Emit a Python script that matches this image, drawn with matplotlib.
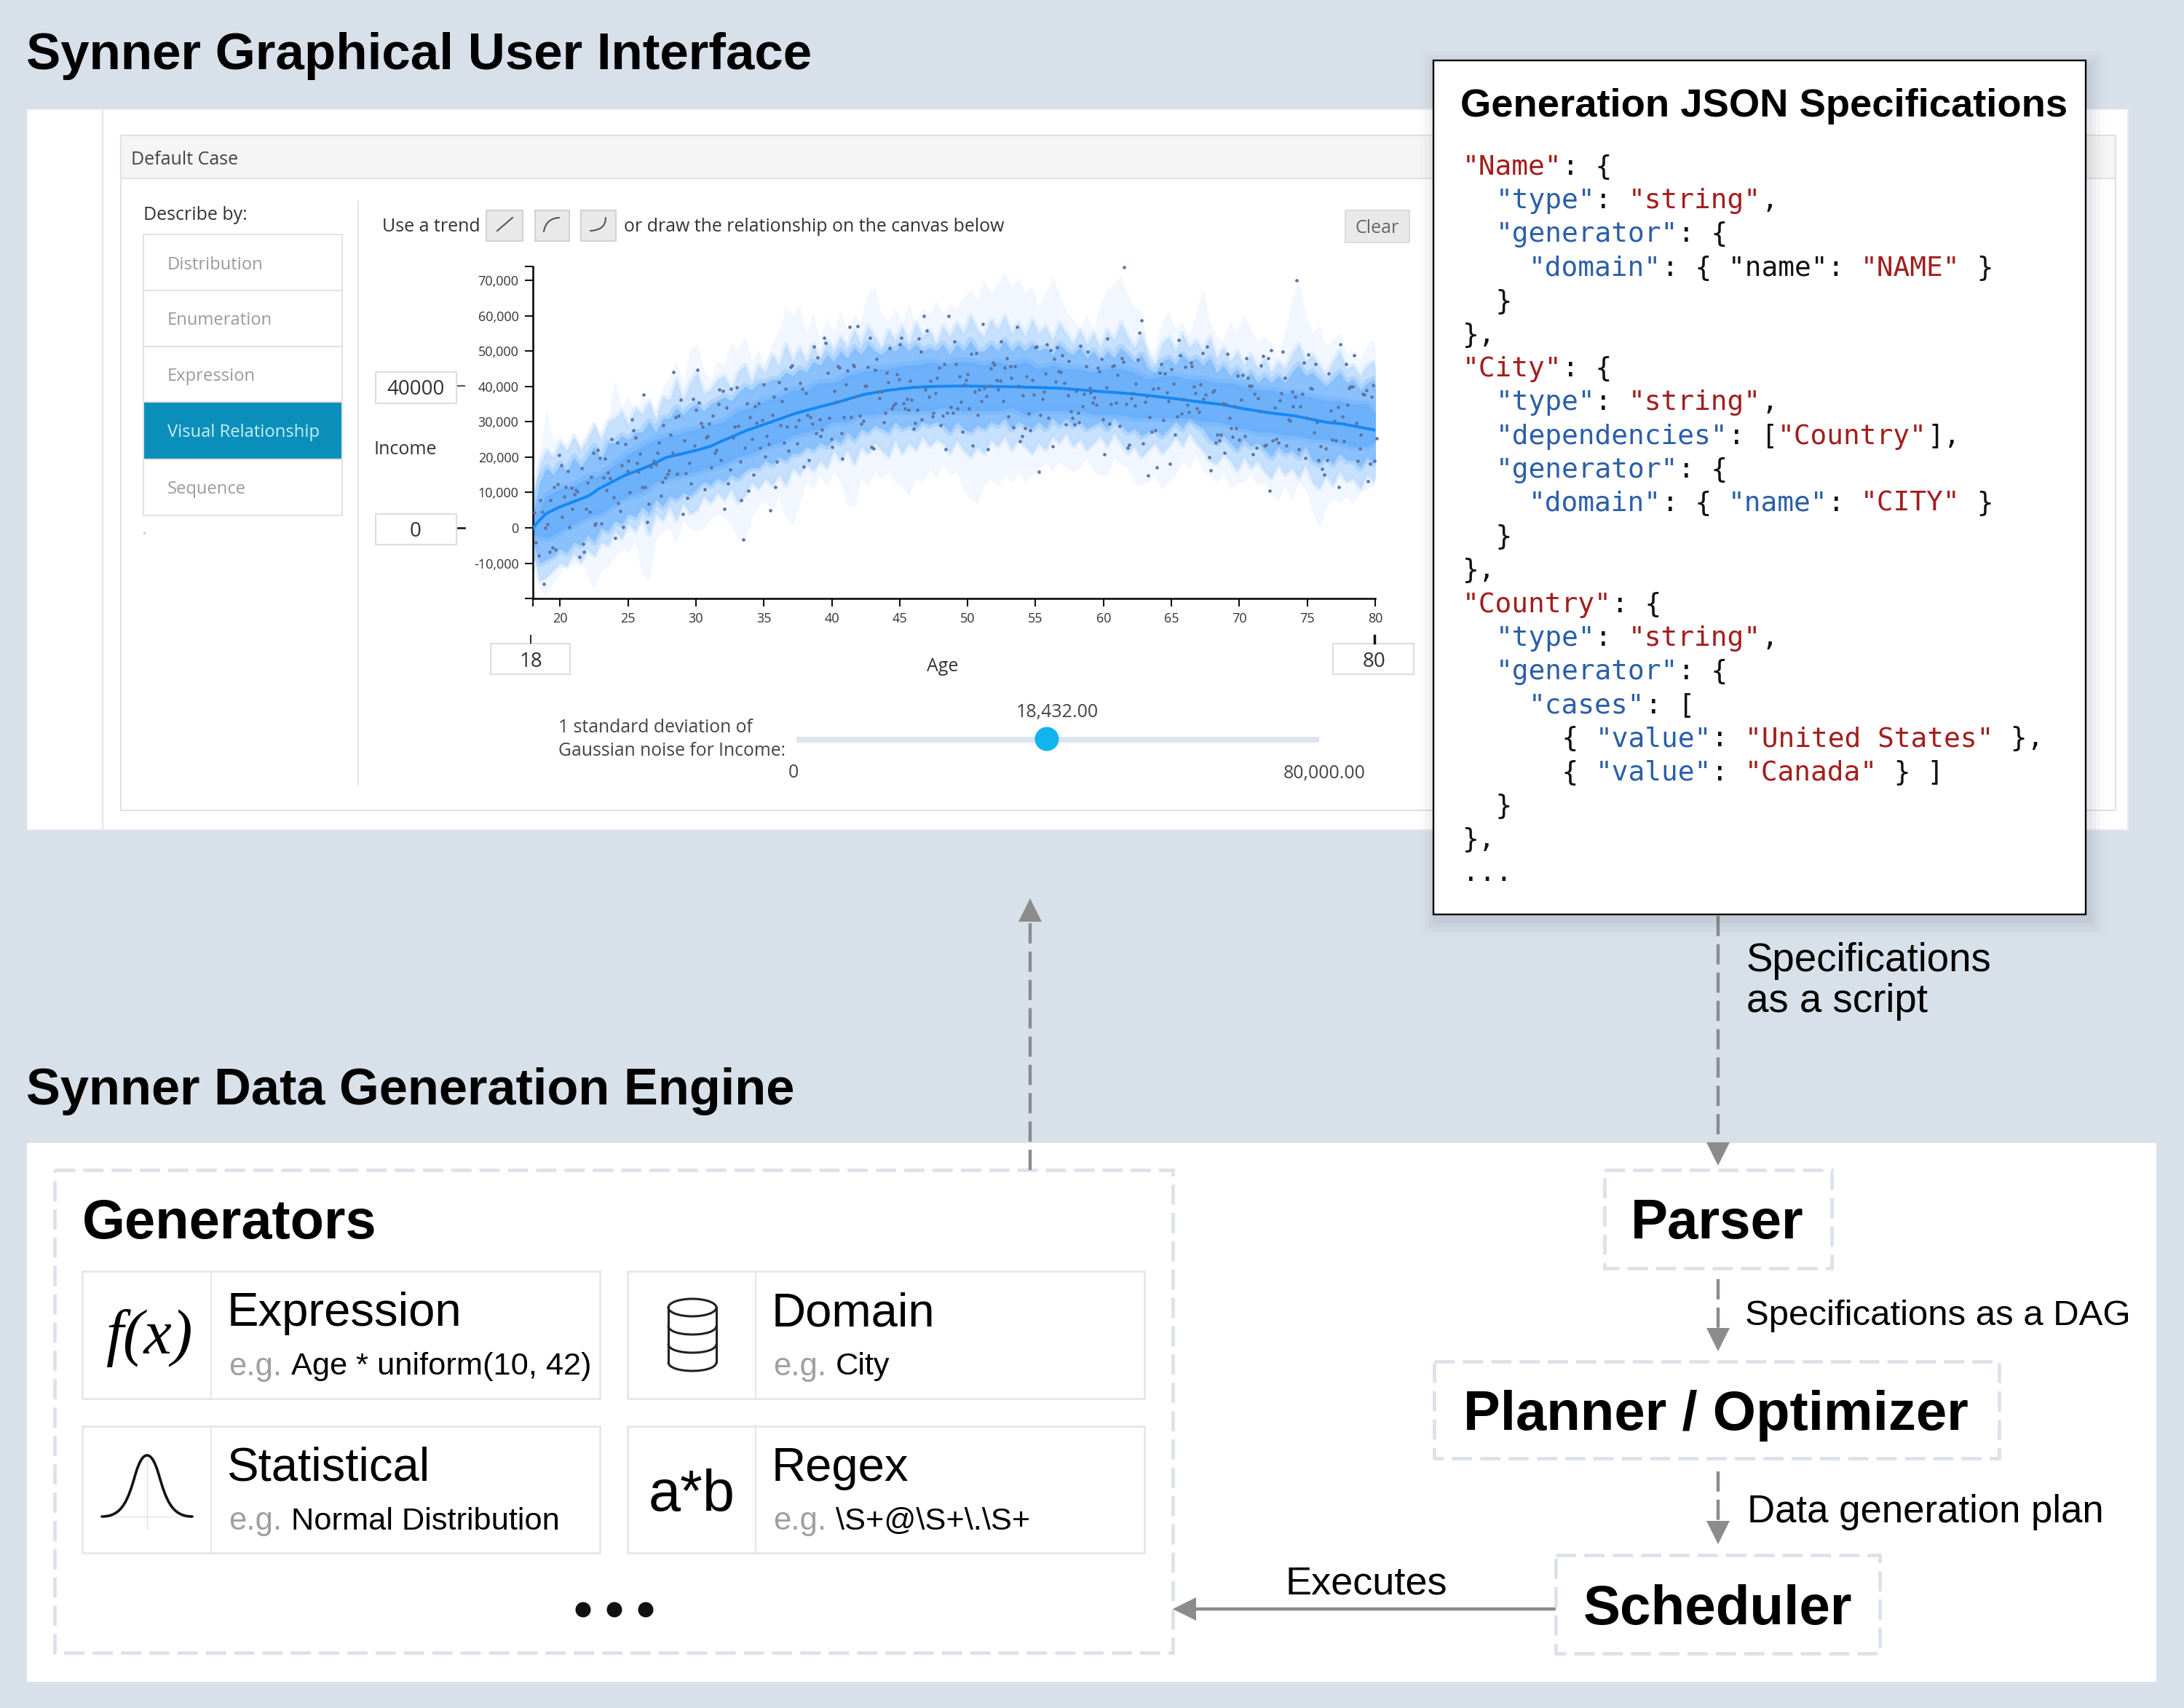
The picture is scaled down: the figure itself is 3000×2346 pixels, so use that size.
import numpy as np
import matplotlib
matplotlib.use('Agg')
import matplotlib.pyplot as plt
from matplotlib.patches import Rectangle, Ellipse, PathPatch
from matplotlib.path import Path

plt.rcParams['lines.scale_dashes'] = False

UI_FONT = 'Open Sans'
LABEL_FONT = 'Liberation Sans'
CODE_FONT = 'DejaVu Sans Mono'

BG = '#d8e0e9'
DASH_EDGE = '#dde1ea'
ARROW = '#8c8c8c'
KEY = '#2b5fa8'
STR = '#a31d1d'
INK = '#111111'

# ---- chart data, income in thousands ----
AGE_TICKS = [20, 25, 30, 35, 40, 45, 50, 55, 60, 65, 70, 75, 80]
INCOME_TICKS = [-10, 0, 10, 20, 30, 40, 50, 60, 70]
INCOME_LABELS = ['-10,000', '0', '10,000', '20,000', '30,000', '40,000', '50,000', '60,000', '70,000']

# ages below were read with a ruler of 18.77 px per year, the axis really has 18.65
AGE_READ_SCALE = 18.774 / 18.65

TREND_AGE = [18, 18.5, 19, 19.9, 22, 22.3, 22.8, 24.7, 26.5, 27.75, 30.05, 31, 31.8, 33.6, 35.4, 37.15, 38.95,
             40.45, 42.2, 44, 45.75, 47.55, 49.35, 52.9, 56.45, 60, 61.2, 63, 64.8, 66.55, 68.3, 70.1, 71.9,
             73.65, 75.15, 76.1, 77.2, 79.5, 79.62]
TREND_INCOME = [0, 2.2, 4.1, 5.8, 8.9, 9.6, 11, 14.8, 17.5, 19.9, 22, 23.1, 24.5, 27.5, 29.9, 32.3, 34.2,
                35.7, 37.7, 38.9, 39.7, 40, 40.1, 39.9, 39.5, 38.4, 38.1, 37.4, 36.6, 35.7, 34.9, 33.6, 32.5,
                31.7, 30.5, 29.8, 29.4, 27.7, 27.5]

HALF_AGES = [18 + i * 0.5 for i in range(125)]
OUTER_HI = [6, 20, 33, 24, 26, 22, 25, 23, 27, 30, 23, 30, 41, 34, 37, 31, 37, 34, 31, 39,
            43, 47, 40, 50, 52, 44, 42, 47, 46, 52, 50, 54, 47, 50, 46, 52, 55, 62, 60, 63,
            54, 60, 53, 59, 55, 61, 56, 60, 58, 66, 68, 60, 58, 62, 58, 63, 57, 62, 60, 64,
            60, 63, 62, 65, 67, 64, 70, 66, 69, 72, 68, 70, 66, 68, 62, 66, 71, 66, 61, 59,
            56, 60, 56, 63, 67, 69, 71, 66, 62, 61, 50, 50, 58, 61, 56, 58, 54, 60, 67, 58,
            54, 53, 58, 55, 60, 56, 52, 54, 52, 48, 55, 64, 69, 60, 55, 57, 51, 53, 55, 49,
            50, 47, 51, 53, 30]
OUTER_LO = [-4, -17, -19, -15, -13, -8, -11, -7, -14, -17, -12, -11, -8, -6, -7, -3, -13, -15, -3, -1,
            0, -4, 2, 0, -1, 0, 3, 4, 3, 1, -3, -4, 3, 6, 8, 5, 9, 3, 1, 7,
            13, 11, 15, 12, 16, 13, 7, 6, 14, 12, 16, 14, 16, 13, 12, 9, 14, 13, 17, 14,
            18, 15, 16, 11, 8, 7, 12, 14, 12, 15, 13, 16, 13, 15, 15, 19, 16, 19, 17, 16,
            17, 20, 16, 15, 15, 20, 18, 17, 13, 12, 13, 15, 11, 13, 15, 19, 17, 21, 16, 15,
            13, 16, 11, 13, 13, 15, 12, 13, 10, 8, 12, 8, 13, 11, 5, 0, 6, 8, 7, 9,
            7, 10, 11, 12, 20]
LIGHT_HI = [8, 18, 22, 20, 24, 22, 26, 22, 25, 29, 25, 30, 31, 33, 29, 34, 32, 36, 31, 37,
            36, 42, 36, 41, 44, 38, 39, 42, 43, 39, 44, 46, 41, 46, 44, 49, 46, 52, 47, 51,
            47, 52, 48, 53, 50, 54, 51, 56, 52, 57, 54, 51, 56, 53, 57, 52, 58, 54, 56, 52,
            57, 54, 58, 55, 60, 56, 54, 59, 56, 60, 55, 58, 54, 59, 55, 57, 53, 58, 55, 52,
            56, 52, 55, 51, 56, 53, 58, 54, 51, 55, 49, 46, 52, 54, 50, 55, 51, 53, 50, 54,
            48, 51, 47, 50, 46, 49, 45, 48, 44, 47, 45, 49, 52, 47, 49, 46, 43, 47, 50, 45,
            46, 43, 46, 47, 38]
LIGHT_LO = [-7, -15, -14, -12, -10, -11, -7, -10, -6, -8, -4, -5, -1, -3, 1, -1, 3, -2, 4, 2,
            6, 2, 7, 4, 5, 9, 7, 10, 8, 11, 7, 9, 13, 11, 14, 12, 15, 12, 17, 15,
            18, 16, 19, 17, 22, 19, 22, 18, 23, 21, 24, 22, 20, 25, 21, 24, 22, 26, 23, 25,
            24, 21, 25, 22, 20, 23, 21, 25, 23, 26, 22, 25, 23, 21, 24, 22, 26, 24, 27, 23,
            25, 22, 24, 26, 23, 27, 24, 21, 23, 20, 22, 24, 21, 23, 26, 23, 27, 24, 22, 19,
            18, 21, 19, 16, 20, 17, 19, 16, 14, 18, 15, 17, 14, 18, 13, 11, 15, 12, 16, 13,
            14, 11, 15, 13, 20]
MEDIUM_HI = [4, 13, 17, 15, 18, 16, 20, 17, 20, 23, 19, 24, 24, 26, 25, 27, 27, 30, 27, 31,
             31, 34, 32, 34, 35, 33, 35, 36, 37, 36, 38, 40, 39, 41, 41, 42, 42, 44, 43, 45,
             44, 47, 46, 49, 47, 50, 48, 51, 49, 52, 50, 49, 51, 50, 52, 50, 52, 50, 51, 50,
             52, 49, 52, 50, 53, 50, 50, 52, 50, 53, 50, 52, 50, 52, 50, 51, 49, 52, 50, 49,
             51, 48, 50, 47, 50, 48, 51, 49, 47, 49, 45, 44, 47, 48, 46, 49, 47, 48, 46, 48,
             44, 46, 43, 45, 42, 44, 41, 43, 41, 43, 41, 44, 46, 43, 44, 42, 40, 42, 44, 41,
             42, 39, 41, 42, 35]
MEDIUM_LO = [-4, -10, -9, -8, -6, -7, -4, -5, -2, -4, 0, -1, 2, 1, 4, 3, 6, 4, 8, 6,
             9, 8, 10, 9, 11, 13, 12, 14, 13, 15, 14, 16, 17, 17, 19, 18, 20, 19, 21, 21,
             23, 22, 24, 23, 25, 24, 27, 25, 28, 27, 29, 28, 27, 30, 28, 29, 28, 30, 29, 30,
             29, 27, 30, 28, 27, 29, 28, 30, 29, 31, 28, 30, 29, 28, 30, 28, 31, 29, 31, 29,
             30, 28, 29, 30, 28, 31, 29, 27, 28, 26, 27, 28, 26, 28, 30, 28, 31, 29, 28, 25,
             24, 26, 24, 22, 25, 23, 24, 22, 20, 23, 21, 22, 20, 23, 19, 18, 20, 18, 21, 19,
             19, 17, 20, 18, 24]

YEAR_AGES = list(range(18, 81))
CORE_HI = [2, 9, 11, 12, 14, 15, 18, 21, 23, 25, 26, 27, 28, 29, 30, 33, 34, 36, 37, 39, 39, 41, 41, 43, 44, 45,
           45, 46, 46, 47, 46, 47, 47, 46, 47, 46, 47, 45, 46, 45, 45, 44, 45, 45, 44, 42, 43, 43, 42, 42, 41, 41,
           40, 39, 39, 38, 38, 37, 36, 36, 35, 35, 31]
CORE_LO = [-2, -3, -1, 1, 3, 4, 7, 9, 10, 13, 14, 15, 16, 17, 18, 20, 21, 23, 24, 26, 27, 28, 30, 30, 32, 32,
           33, 33, 33, 33, 34, 33, 33, 33, 33, 34, 32, 33, 33, 33, 33, 32, 32, 32, 31, 31, 31, 31, 31, 30, 30, 29,
           28, 27, 27, 26, 26, 25, 25, 24, 23, 23, 25]

SAMPLES = [
    (18.1, 4.3), (18.55, 7.9), (18.7, 4.6), (18.2, -4.1), (18.4, -7.8), (18.8, -15.9), (18.9, -0.1), (19.05, 1.1),
    (19.2, -6.7), (19.3, 7.8), (19.45, -5.5), (19.65, -6.2), (19.55, 11.5), (19.8, 12.4), (19.9, 20.5), (20.05, 17.6),
    (20.15, 3.1), (20.3, 8.9), (20.4, 11.5), (20.55, 16.1), (20.65, 0.3), (20.8, 11.3), (20.9, 5.4), (21.05, 9.5),
    (21.15, 10.8), (21.25, 10.2), (21.4, -8.2), (21.55, 16.8), (21.65, -4.5), (21.75, -6.7), (21.9, 5.4), (22.0, 12.7),
    (22.15, 4.6), (22.25, 14.5), (22.4, 21.1), (22.5, 0.8), (22.6, 1.2), (22.75, 22.1), (22.9, 19.7), (23.0, 1.2),
    (23.15, 14.3), (23.25, 19.5), (23.4, 10.6), (23.5, 15.7), (23.65, 14), (23.75, 25.2), (23.9, 8.7), (24.0, -2.8),
    (24.15, 24), (24.25, 6.9), (24.4, 4.8), (24.5, 17.6), (24.6, 0.3), (24.75, 23.7), (24.9, 16.1), (25.0, 18.9),
    (25.1, 10), (25.25, 30.7), (25.35, 27.5), (25.5, 25.6), (25.6, 18.4), (25.7, 15.9), (25.85, 20.9), (26, 11.6),
    (26.1, 37.7), (26.2, 11.6), (26.35, 1.7), (26.45, 6.7), (26.6, 17.2), (26.85, 18.9), (27, 18), (27.1, 21.1),
    (27.2, 24), (27.35, 9), (27.45, 12.9), (27.55, 29), (27.7, 14.3), (27.85, 15.3), (27.95, 16.3), (28.05, 26.4),
    (28.2, 21.1), (28.3, 44.1), (28.45, 31.2), (28.55, 15.2), (28.65, 31.7), (28.8, 36.3), (28.95, 3.9), (29.05, 24.7),
    (29.2, 15.4), (29.3, 8.4), (29.45, 18.4), (29.55, 12.5), (29.7, 36.4), (29.8, 23.2), (29.9, 33.3), (30.05, 44.6),
    (30.15, 35.5), (30.3, 29.7), (30.4, 28.7), (30.55, 10.9), (30.65, 25.6), (30.8, 25.9), (30.9, 29.4), (31.05, 17.1),
    (31.15, 31.8), (31.3, 21.3), (31.4, 22.1), (31.55, 34.9), (31.65, 39.1), (31.75, 19.2), (31.9, 38.8), (32, 5.3),
    (32.15, 34), (32.25, 12.6), (32.4, 16.4), (32.5, 39.3), (32.65, 25.6), (32.75, 28.6), (32.9, 39.7), (33, 28.8),
    (33.15, 18.8), (33.25, 7.9), (33.4, -3.2), (33.5, 22.6), (33.65, 35.1), (33.75, 10.4), (33.85, 31.2), (34, 25.2),
    (34.15, 15.1), (34.25, 34.3), (34.35, 29.7), (34.5, 35.1), (34.6, 22.6), (34.75, 30.5), (34.85, 40.5), (35, 20.2),
    (35.1, 26), (35.25, 23.7), (35.35, 4.9), (35.5, 31.9), (35.6, 37.1), (35.7, 11.5), (35.85, 18.7), (36, 41.2),
    (36.1, 29.1), (36.2, 35.9), (36.35, 24), (36.45, 39.3), (36.6, 28.7), (36.7, 21.8), (36.85, 45.5), (36.95, 45.9),
    (37.2, 28.7), (37.3, 23.9), (37.45, 30.5), (37.55, 41), (37.7, 39.3), (37.8, 17.3), (37.95, 38.1), (38.05, 31.9),
    (38.2, 19.1), (38.3, 31.2), (38.45, 29.5), (38.55, 51.3), (38.7, 26.7), (38.8, 48.1),
    (38.95, 30.6), (39.05, 25.9), (39.15, 27.7), (39.3, 53.8), (39.4, 52.3), (39.55, 43.9), (39.65, 31), (39.8, 25.1),
    (39.9, 22.8), (40.05, 38.7), (40.15, 35.7), (40.3, 45.8), (40.4, 45.2), (40.55, 26.8), (40.65, 19.5), (40.75, 31.2),
    (40.9, 40.6), (41, 44.4), (41.15, 56.9), (41.25, 31.3), (41.4, 46.1), (41.5, 45.6), (41.65, 37.3), (41.75, 57),
    (41.9, 31.7), (42, 29.5), (42.15, 30.3), (42.25, 40.1), (42.4, 40.1), (42.5, 45.4), (42.65, 53.8), (42.75, 22.9),
    (42.9, 22.4), (43, 44.7), (43.1, 47.8), (43.25, 38.4), (43.35, 36.7), (43.5, 38.5), (43.65, 29.9), (43.75, 32.5),
    (43.85, 43.8), (44, 41.2), (44.1, 50.9), (44.25, 33.7), (44.35, 34.6), (44.5, 35.3), (44.6, 43.5), (44.75, 42),
    (44.85, 51.8), (44.95, 53.7), (45.1, 35.2), (45.2, 33.7), (45.35, 36.5), (45.45, 33.3), (45.6, 41.5), (45.7, 36.2),
    (45.85, 28), (45.95, 29.6), (46.1, 33.3), (46.2, 53.6), (46.35, 49.9), (46.45, 30.6), (46.6, 59.8), (46.7, 39.2),
    (46.8, 55.7), (46.95, 37), (47.05, 41.5), (47.2, 31.4), (47.3, 32.5), (47.45, 38.1), (47.55, 42.4), (47.7, 45.2),
    (47.8, 29), (47.95, 31.8), (48.05, 46.3), (48.2, 22.3), (48.3, 32.5), (48.4, 59.9), (48.55, 34.2), (48.7, 32.5),
    (48.8, 52.6), (48.95, 46.3), (49.05, 33.7), (49.2, 42.8), (49.3, 35.6), (49.4, 27.1), (49.55, 40.6), (49.65, 41.8),
    (49.8, 43.5), (49.9, 33.7), (50.05, 49.1), (50.15, 23.2), (50.3, 38.4), (50.4, 49.4), (50.55, 32), (50.65, 39.1),
    (50.8, 35.8), (50.9, 57.6), (51, 39.5), (51.15, 37.2), (51.25, 22.2), (51.4, 40.1), (51.5, 45.1), (51.65, 46.7),
    (51.75, 46.1), (51.9, 41.8), (52, 39.1), (52.15, 41.5), (52.25, 52.6), (52.4, 35.8), (52.5, 45.3), (52.65, 48),
    (52.75, 31.4), (52.9, 45.6), (53, 42.4), (53.15, 28.4), (53.25, 45.6), (53.4, 56.8), (53.5, 40.2), (53.6, 24.4),
    (53.75, 25.9), (53.85, 37.4), (54, 28.1), (54.1, 42.8), (54.25, 32.4), (54.35, 27.6), (54.5, 41.8), (54.6, 37.7),
    (54.75, 51), (54.85, 51.3), (55, 15.9), (55.1, 31.9), (55.25, 36.5), (55.35, 38.5), (55.45, 43.6), (55.6, 51.9),
    (55.7, 31), (55.85, 50.2), (56, 23), (56.1, 47.8), (56.2, 41.4), (56.35, 51.1), (56.45, 44.3), (56.6, 44),
    (56.7, 48.7), (56.85, 41), (56.95, 29.3), (57.1, 37.4), (57.2, 47.2), (57.35, 33), (57.45, 31), (57.6, 29.2),
    (57.7, 38.8), (57.85, 32.6), (57.95, 29.8), (58.05, 51.4), (58.2, 34.3), (58.3, 37.8), (58.45, 45.7), (58.55, 49.9),
    (58.7, 39.5), (58.8, 38.3), (58.95, 35.4), (59.05, 36.8), (59.2, 34.7), (59.3, 45.2), (59.4, 44.2), (59.55, 47.8),
    (59.7, 30.6), (59.8, 20.8), (59.95, 39.8), (60, 53.5),
    (60.15, 29.5), (60.25, 34.9), (60.4, 45.8), (60.5, 46), (60.65, 35.5), (60.75, 43.3), (60.9, 28.9), (61.05, 48),
    (61.15, 46.9), (61.25, 73.7), (61.4, 34.9), (61.5, 22.6), (61.6, 23.5), (61.75, 36.6), (61.85, 38.1), (62, 34.5),
    (62.1, 40.8), (62.25, 47.6), (62.35, 55.2), (62.5, 58.6), (62.6, 23.8), (62.75, 35.6), (62.85, 37.3), (63, 14.8),
    (63.1, 31.3), (63.25, 27.1), (63.35, 39.4), (63.5, 27.5), (63.6, 17.1), (63.75, 39.5), (63.85, 43.8), (63.95, 46.4),
    (64.1, 30.5), (64.2, 43.7), (64.35, 38.2), (64.45, 35.9), (64.6, 18.1), (64.7, 44.8), (64.85, 40.7), (64.95, 26.4),
    (65.1, 31.4), (65.2, 53.2), (65.35, 48.7), (65.45, 32.3), (65.6, 36.4), (65.7, 45.4), (65.85, 34.7), (65.95, 32.8),
    (66.1, 46.7), (66.2, 45.8), (66.35, 40), (66.45, 38), (66.55, 33.8), (66.7, 32.8), (66.8, 40.5), (66.95, 49.5),
    (67.05, 36.4), (67.2, 37.7), (67.3, 51.3), (67.45, 20), (67.55, 16.3), (67.7, 38.4), (67.8, 39), (67.95, 24),
    (68.05, 26.4), (68.2, 24.6), (68.3, 26.4), (68.45, 35.1), (68.55, 21.1), (68.7, 34.9), (68.8, 49.2), (68.95, 31),
    (69.05, 28.2), (69.15, 25.7), (69.3, 34.4), (69.4, 28.1), (69.55, 43), (69.65, 24.9), (69.8, 36.2), (69.9, 43.3),
    (70.05, 26), (70.15, 48), (70.3, 42.4), (70.4, 40.2), (70.55, 40.2), (70.65, 20.7), (70.75, 37.9), (70.9, 22.6),
    (71, 36.7), (71.15, 32.9), (71.25, 46), (71.4, 48.5), (71.5, 23.3), (71.6, 23.5), (71.75, 48), (71.85, 10.5),
    (72, 50.2), (72.1, 24.7), (72.25, 34), (72.35, 25.1), (72.5, 24), (72.6, 36), (72.75, 38.1), (72.85, 49.8),
    (73, 42.4), (73.1, 23.3), (73.25, 30.6), (73.35, 30.3), (73.5, 38.5), (73.6, 34.4), (73.75, 37.1), (73.85, 69.9),
    (74, 22.2), (74.1, 34.3), (74.25, 37.8), (74.35, 46.7), (74.5, 19.8), (74.6, 31.1), (74.7, 49), (74.85, 39.6),
    (74.95, 39.3), (75.1, 26.9), (75.2, 46.4), (75.35, 29.9), (75.45, 19.1), (75.6, 23.1), (75.7, 16.7), (75.85, 15),
    (75.95, 22.4), (76.1, 19.2), (76.2, 43.6), (76.35, 33.2), (76.45, 24.9), (76.6, 30.3), (76.7, 24.7), (76.85, 34.2),
    (76.95, 11.6), (77.05, 51.8), (77.2, 31.5), (77.3, 24.5), (77.45, 46.3), (77.55, 34.7), (77.7, 39.5), (77.8, 39.9),
    (77.95, 39.9), (78.05, 48.7), (78.2, 29.7), (78.3, 18.9), (78.45, 22.4), (78.55, 26.4), (78.7, 37.8), (78.8, 37.7),
    (78.95, 39), (79.05, 13.2), (79.2, 18.1), (79.3, 37), (79.45, 40.3), (79.55, 18.9), (79.7, 25.4),
]

# ---- interface text ----
DESCRIBE_ITEMS = ['Distribution', 'Enumeration', 'Expression', 'Visual Relationship', 'Sequence']
JSON_LINES = [
    [('"Name"', STR), (': {', INK)],
    [('  ', INK), ('"type"', KEY), (': ', INK), ('"string"', STR), (',', INK)],
    [('  ', INK), ('"generator"', KEY), (': {', INK)],
    [('    ', INK), ('"domain"', KEY), (': { "name": ', INK), ('"NAME"', STR), (' }', INK)],
    [('  }', INK)],
    [('},', INK)],
    [('"City"', STR), (': {', INK)],
    [('  ', INK), ('"type"', KEY), (': ', INK), ('"string"', STR), (',', INK)],
    [('  ', INK), ('"dependencies"', KEY), (': [', INK), ('"Country"', STR), ('],', INK)],
    [('  ', INK), ('"generator"', KEY), (': {', INK)],
    [('    ', INK), ('"domain"', KEY), (': { ', INK), ('"name"', KEY), (': ', INK), ('"CITY"', STR), (' }', INK)],
    [('  }', INK)],
    [('},', INK)],
    [('"Country"', STR), (': {', INK)],
    [('  ', INK), ('"type"', KEY), (': ', INK), ('"string"', STR), (',', INK)],
    [('  ', INK), ('"generator"', KEY), (': {', INK)],
    [('    ', INK), ('"cases"', KEY), (': [', INK)],
    [('      { ', INK), ('"value"', KEY), (': ', INK), ('"United States"', STR), (' },', INK)],
    [('      { ', INK), ('"value"', KEY), (': ', INK), ('"Canada"', STR), (' } ]', INK)],
    [('  }', INK)],
    [('},', INK)],
    [('...', INK)],
]
GENERATOR_CARDS = [
    ('Expression', 'Age * uniform(10, 42)'),
    ('Domain', 'City'),
    ('Statistical', 'Normal Distribution'),
    ('Regex', r'\S+@\S+\.\S+'),
]


def txt(x, y, s, size, font=LABEL_FONT, color='black', ha='left', weight='normal', style='normal', z=5):
    ax.text(x, y, s, fontsize=size, family=font, color=color, ha=ha, va='center',
            fontweight=weight, fontstyle=style, zorder=z, parse_math=False)


def box(x0, y0, x1, y1, face='white', edge='none', lw=0.0, z=1, **kw):
    ax.add_patch(Rectangle((x0, y0), x1 - x0, y1 - y0, facecolor=face, edgecolor=edge, linewidth=lw, zorder=z, **kw))


def dashed_box(x0, y0, x1, y1):
    box(x0, y0, x1, y1, face='none', edge=DASH_EDGE, lw=3.4, z=2, linestyle=(0, (20, 8)))


def flow_arrow(x0, y0, x1, y1, head=32, half=16, dashed=True):
    # line then a filled triangle for the head
    d = np.array([x1 - x0, y1 - y0], dtype=float)
    d = d / np.hypot(*d)
    n = np.array([-d[1], d[0]])
    tip = np.array([x1, y1], dtype=float)
    back = tip - d * head
    ls = (0, (20, 8)) if dashed else '-'
    ax.plot([x0, back[0]], [y0, back[1]], color=ARROW, lw=3.2, linestyle=ls, zorder=3, solid_capstyle='butt', dash_capstyle='butt')
    ax.fill([tip[0], back[0] + n[0] * half, back[0] - n[0] * half], [tip[1], back[1] + n[1] * half, back[1] - n[1] * half],
            color=ARROW, lw=0, zorder=3)


def bezier(points, codes, color='#555555', lw=1.5):
    ax.add_patch(PathPatch(Path(points, codes), facecolor='none', edgecolor=color, linewidth=lw, zorder=5, capstyle='round'))


fig = plt.figure(figsize=(30, 23.46), dpi=100, facecolor=BG)
# whole picture is laid out in pixels on this axes
ax = fig.add_axes([0, 0, 1, 1])
ax.set_xlim(0, 3000)
ax.set_ylim(2346, 0)
ax.axis('off')

txt(36, 77, 'Synner Graphical User Interface', 51, weight='bold')
txt(36, 1499, 'Synner Data Generation Engine', 50.7, weight='bold')

# ---- GUI panel ----
box(37, 150, 2923, 1140, edge='#e6e9ee', lw=1.5)
ax.plot([141, 141], [150, 1140], color='#e6e6e6', lw=1.5, zorder=2)
box(166, 186, 2906, 1113, edge='#e2e2e2', lw=1.5, z=2)
box(166, 186, 2906, 245, face='#f5f5f5', edge='#e2e2e2', lw=1.5, z=2)
txt(180, 220, 'Default Case', 18, UI_FONT, '#444444')

txt(197, 295, 'Describe by:', 18, UI_FONT, '#333333')
item_y = [322, 399, 476, 552, 631, 708]
for i, item in enumerate(DESCRIBE_ITEMS):
    active = item == 'Visual Relationship'
    box(197, item_y[i], 470, item_y[i + 1], face='#0a8fba' if active else 'white', edge='#e3e3e3', lw=1.5, z=2)
    txt(230, (item_y[i] + item_y[i + 1]) / 2 + 3, item, 17.1, UI_FONT, '#c8edf7' if active else '#9a9a9a')
ax.plot([198], [732], marker='.', color='#cccccc', ms=3, zorder=3)
ax.plot([492, 492], [276, 1079], color='#e8e8e8', lw=1.5, zorder=2)

txt(525, 312, 'Use a trend', 18, UI_FONT, '#333333')
for x0, x1 in [(668, 718), (735, 782), (798, 846)]:
    box(x0, 289, x1, 331, face='#e9e9e9', edge='#d2d2d2', lw=1.5, z=3)
ax.plot([683, 704], [317, 299], color='#555555', lw=1.5, zorder=5)
bezier([(747, 318), (750, 300), (768, 299)], [Path.MOVETO, Path.CURVE3, Path.CURVE3])
bezier([(811, 317), (832, 316), (832, 299)], [Path.MOVETO, Path.CURVE3, Path.CURVE3])
txt(857, 312, 'or draw the relationship on the canvas below', 17.9, UI_FONT, '#333333')
box(1848, 289, 1936, 333, face='#e9e9e9', edge='#dcdcdc', lw=1.5, z=3)
txt(1892, 313, 'Clear', 18, UI_FONT, '#666666', ha='center')

for y0, y1, s in [(511, 554, '40000'), (706, 748, '0')]:
    box(516, y0, 627, y1, edge='#dddddd', lw=1.5, z=3)
    txt(571, (y0 + y1) / 2 + 3, s, 20, UI_FONT, '#333333', ha='center')
ax.plot([629, 638], [530, 530], color='#555555', lw=1.5, zorder=3)
ax.plot([629, 638], [725, 725], color='#222222', lw=2, zorder=3)
txt(514, 617, 'Income', 18, UI_FONT, '#333333')
for x0, x1, s in [(674, 783, '18'), (1831, 1942, '80')]:
    box(x0, 884, x1, 926, edge='#dddddd', lw=1.5, z=3)
    txt((x0 + x1) / 2 + 1, 909, s, 20, UI_FONT, '#333333', ha='center')
ax.plot([729, 729], [873, 883], color='#333333', lw=1.5, zorder=3)
ax.plot([1888, 1888], [873, 883], color='#111111', lw=2.5, zorder=3)
txt(1295, 915, 'Age', 18, UI_FONT, '#333333', ha='center')

# noise slider
box(1094, 1012, 1812, 1020, face='#dde4f0', z=3)
ax.add_patch(Ellipse((1438, 1015), 33, 33, facecolor='#10b4ee', edgecolor='none', zorder=4))
txt(1452, 978, '18,432.00', 18, UI_FONT, '#444444', ha='center')
txt(767, 999, '1 standard deviation of', 17.8, UI_FONT, '#444444')
txt(767, 1032, 'Gaussian noise for Income:', 17.8, UI_FONT, '#444444')
txt(1090, 1062, '0', 18, UI_FONT, '#444444', ha='center')
txt(1819, 1062, '80,000.00', 18, UI_FONT, '#444444', ha='center')

# ---- JSON box ----
for grow, alpha in [(22, 0.02), (16, 0.03), (10, 0.04), (5, 0.05)]:
    box(1969 - grow + 4, 83 - grow + 8, 2865 + grow + 4, 1256 + grow + 8, face='#50586a', alpha=alpha, z=6)
box(1969, 83, 2865, 1256, edge='black', lw=1.7, z=7)
txt(2006, 146, 'Generation JSON Specifications', 39.2, weight='bold', z=8)
char_w = 22.8
for row, tokens in enumerate(JSON_LINES):
    col = 0
    for s, c in tokens:
        if s.strip():
            txt(2009 + col * char_w, 230 + row * 46.2, s, 27.3, CODE_FONT, c, z=8)
        col += len(s)

# ---- engine panel ----
box(37, 1570, 2962, 2310)
dashed_box(75, 1607, 1611, 2270)
txt(113, 1682, 'Generators', 54.5, weight='bold')

card_x = [(113, 824, 290), (862, 1572, 1038)]
card_y = [(1746, 1921), (1959, 2133)]
for i, (title, example) in enumerate(GENERATOR_CARDS):
    x0, x1, xd = card_x[i % 2]
    y0, y1 = card_y[i // 2]
    box(x0, y0, x1, y1, edge='#e2e8ea', lw=2, z=2)
    ax.plot([xd, xd], [y0, y1], color='#e2e8ea', lw=1.5, zorder=3)
    txt(xd + 22, y0 + 58, title, 47)
    txt(xd + 24, y0 + 131, 'e.g.', 31.5, color='#a0a0a0')
    txt(xd + 110, y0 + 131, example, 31.2)

# card icons
txt(205, 1838, 'f(x)', 62, 'Liberation Serif', ha='center', style='italic')
txt(950, 2054, 'a*b', 57, ha='center')
ax.add_patch(Ellipse((951, 1796), 66, 24, facecolor='none', edgecolor='#222222', linewidth=2.2, zorder=5))
for yc in [1821, 1846, 1871]:
    ax.add_patch(PathPatch(Path([(918, yc), (918, yc + 16), (984, yc + 16), (984, yc)],
                                [Path.MOVETO, Path.CURVE4, Path.CURVE4, Path.CURVE4]),
                           facecolor='none', edgecolor='#222222', linewidth=2.2, zorder=5))
ax.plot([918, 918], [1796, 1871], color='#222222', lw=2.2, zorder=5)
ax.plot([984, 984], [1796, 1871], color='#222222', lw=2.2, zorder=5)
ax.plot([202, 202], [1995, 2100], color='#e4e4e4', lw=1, zorder=4)
ax.plot([140, 264], [2083, 2083], color='#e4e4e4', lw=1, zorder=4)
bezier([(140, 2083), (168, 2083), (176, 2060), (186, 2025), (192, 2005), (197, 1999), (202, 1999),
        (207, 1999), (212, 2005), (218, 2025), (228, 2060), (236, 2083), (264, 2083)],
       [Path.MOVETO] + [Path.CURVE4] * 12, color='#111111', lw=2.6)

for xd in [801, 844, 887]:
    ax.add_patch(Ellipse((xd, 2211), 21, 21, facecolor='#111111', edgecolor='none', zorder=5))

dashed_box(2204, 1607, 2516, 1742)
txt(2359, 1681, 'Parser', 55, ha='center', weight='bold')
dashed_box(1970, 1870, 2746, 2003)
txt(2357, 1944, 'Planner / Optimizer', 54.8, ha='center', weight='bold')
dashed_box(2137, 2136, 2582, 2271)
txt(2360, 2211, 'Scheduler', 55, ha='center', weight='bold')

flow_arrow(1415, 1607, 1415, 1234)
flow_arrow(2360, 1258, 2360, 1601)
flow_arrow(2360, 1757, 2360, 1856)
flow_arrow(2360, 2021, 2360, 2121)
flow_arrow(2137, 2210, 1611, 2210, dashed=False)

txt(2399, 1320, 'Specifications', 39.3)
txt(2399, 1376, 'as a script', 39.3)
txt(2397, 1808, 'Specifications as a DAG', 35.4)
txt(2400, 2077, 'Data generation plan', 38)
txt(1877, 2176, 'Executes', 39, ha='center')

# ---- scatter chart inside the GUI ----
chart = fig.add_axes([732 / 3000, 1 - 822 / 2346, 1157 / 3000, 456 / 2346], facecolor='none', zorder=2)
chart.set_xlim(18, 80)
chart.set_ylim(-19.97, 73.9)
for name in ['top', 'right']:
    chart.spines[name].set_visible(False)
for name in ['left', 'bottom']:
    chart.spines[name].set_linewidth(1.8)


def true_age(ages):
    return 18 + (np.asarray(ages, dtype=float) - 18) * AGE_READ_SCALE


def band(ages, lo, hi, color, alpha, feather):
    xs = true_age(ages)
    chart.fill_between(xs, lo, hi, color=color, alpha=alpha, linewidth=0, zorder=1)
    chart.fill_between(xs, lo, hi, facecolor='none', edgecolor=color, alpha=alpha * 0.4, linewidth=feather, zorder=1)


band(HALF_AGES, OUTER_LO, OUTER_HI, '#eef5ff', 0.75, 2)
band(HALF_AGES, LIGHT_LO, LIGHT_HI, '#bcdbfd', 0.8, 5)
band(HALF_AGES, MEDIUM_LO, MEDIUM_HI, '#80bcfc', 0.85, 7)
band(YEAR_AGES, CORE_LO, CORE_HI, '#64acfb', 0.75, 8)
chart.plot(true_age(TREND_AGE), TREND_INCOME, color='#1687f2', lw=2.8, zorder=3)
sample_age, sample_income = zip(*SAMPLES)
chart.scatter(true_age(sample_age), sample_income, s=11, color='#5b74a3', linewidths=0, zorder=4, clip_on=False)

chart.set_xticks([18] + AGE_TICKS)
chart.set_xticklabels([''] + [str(a) for a in AGE_TICKS], fontsize=13, family=UI_FONT, color='#333333')
chart.set_yticks([-19.97] + INCOME_TICKS + [73.9])
chart.set_yticklabels([''] + INCOME_LABELS + [''], fontsize=13, family=UI_FONT, color='#333333')
chart.tick_params(axis='both', length=8, width=1.5, color='#111111', pad=6)

fig.savefig('out.png', dpi=100, facecolor=BG)
